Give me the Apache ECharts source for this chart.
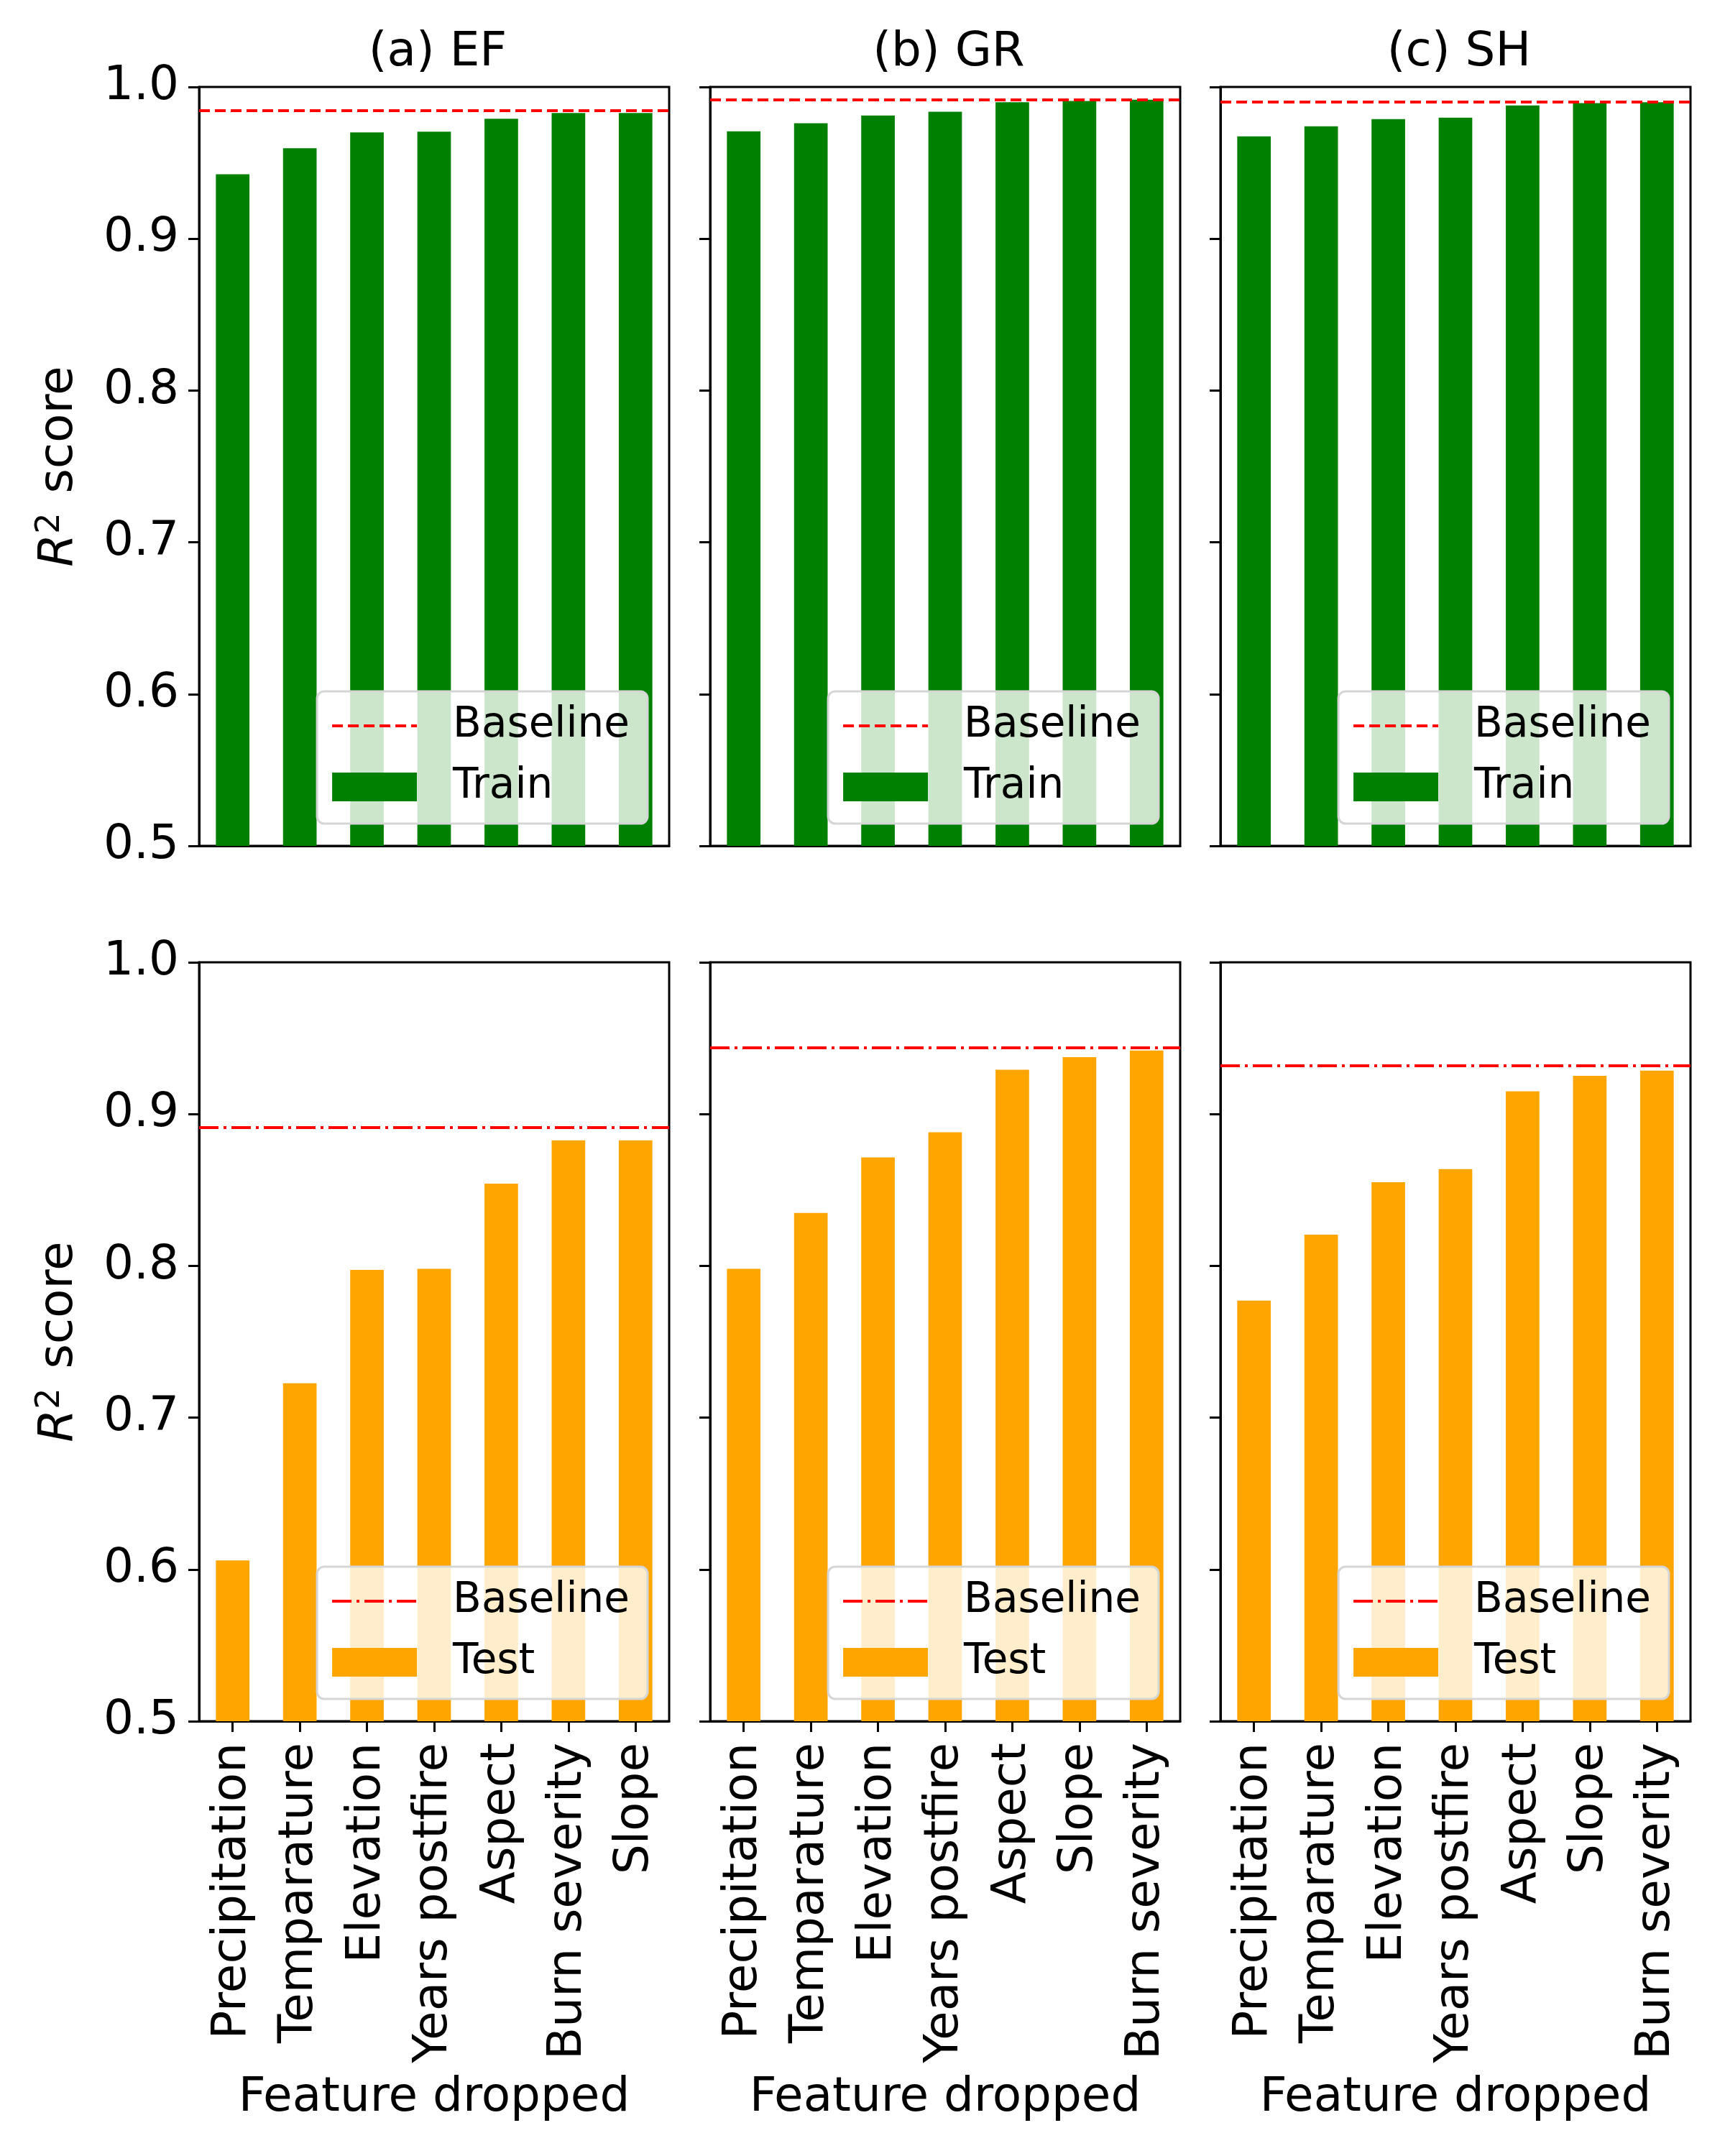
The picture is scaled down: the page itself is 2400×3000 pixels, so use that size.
<!DOCTYPE html>
<html>
<head>
<meta charset="utf-8">
<script src="https://cdn.jsdelivr.net/npm/echarts@6/dist/echarts.min.js"></script>
<style>
  html, body { margin: 0; padding: 0; background: #fff; }
  #main { width: 2400px; height: 3000px; }
</style>
</head>
<body>
<div id="main"></div>
<script>
// categories (order differs between EF and GR/SH)
var catsEF = ['Precipitation', 'Temparature', 'Elevation', 'Years postfire', 'Aspect', 'Burn severity', 'Slope']
var catsGR = ['Precipitation', 'Temparature', 'Elevation', 'Years postfire', 'Aspect', 'Slope', 'Burn severity']
var catsSH = ['Precipitation', 'Temparature', 'Elevation', 'Years postfire', 'Aspect', 'Slope', 'Burn severity']

// R2 values
var trainEF = [0.9425, 0.9596, 0.9700, 0.9705, 0.9790, 0.9828, 0.9828]
var trainGR = [0.9708, 0.9761, 0.9812, 0.9837, 0.9899, 0.9908, 0.9916]
var trainSH = [0.9675, 0.9741, 0.9788, 0.9798, 0.9878, 0.9893, 0.9899]
var testEF = [0.606, 0.7226, 0.7973, 0.798, 0.8542, 0.8827, 0.8827]
var testGR = [0.798, 0.8349, 0.8714, 0.888, 0.9292, 0.9375, 0.9419]
var testSH = [0.7771, 0.8206, 0.8551, 0.8638, 0.915, 0.9252, 0.9286]
var baseTrain = [0.9845, 0.9918, 0.9904]
var baseTest = [0.891, 0.9439, 0.9319]

var titles = ['(a) EF', '(b) GR', '(c) SH']

var FONT = 'DejaVu Sans'
var FS = 66      // axis text, titles
var LFS = 58     // legend text
var lefts = [277, 988, 1698]
var PW = 654
var tops = [121, 1339]
var PH = 1056

var cats = [catsEF, catsGR, catsSH]
var train = [trainEF, trainGR, trainSH]
var test = [testEF, testGR, testSH]

var dashTop = [15, 7]
var dashBot = [27, 7, 4, 7]

var grid = [], xAxis = [], yAxis = [], series = [], legend = [], title = []

for (var r = 0; r < 2; r++) {
    for (var c = 0; c < 3; c++) {
        var i = r * 3 + c
        grid.push({
            left: lefts[c], top: tops[r], width: PW, height: PH,
            show: true, borderColor: '#000', borderWidth: 3, containLabel: false
        })
        xAxis.push({
            type: 'category', gridIndex: i, data: cats[c],
            axisLine: { show: true, lineStyle: { color: '#000', width: 3 } },
            axisTick: { show: r === 1, alignWithLabel: true, length: 15, lineStyle: { width: 3, color: '#000' } },
            axisLabel: { show: r === 1, rotate: 90, margin: 30, fontSize: FS, fontFamily: FONT, color: '#000', interval: 0 },
            name: r === 1 ? 'Feature dropped' : '',
            nameLocation: 'middle', nameGap: 492,
            nameTextStyle: { fontSize: FS, fontFamily: FONT, color: '#000' },
            splitLine: { show: false }
        })
        yAxis.push({
            type: 'value', gridIndex: i, min: 0.5, max: 1.0, interval: 0.1,
            axisLine: { show: true, lineStyle: { color: '#000', width: 3 } },
            axisTick: { show: true, length: 15, lineStyle: { width: 3, color: '#000' } },
            axisLabel: {
                show: c === 0, margin: 28, fontSize: FS, fontFamily: FONT, color: '#000',
                formatter: function (v) { return v.toFixed(1) }
            },
            splitLine: { show: false },
            name: c === 0 ? '{r|R}{s|2} score' : '',
            nameLocation: 'middle', nameGap: 158,
            nameTextStyle: {
                fontSize: FS, fontFamily: FONT, color: '#000',
                rich: {
                    r: { fontSize: FS, fontFamily: FONT, fontStyle: 'italic', color: '#000' },
                    s: { fontSize: 46, fontFamily: FONT, color: '#000', verticalAlign: 'top', padding: [0, 6, 26, 0] }
                }
            }
        })
        var barName = r === 0 ? 'Train' : 'Test'
        var baseName = r === 0 ? 'Baseline' : 'Baseline-test'
        var dash = r === 0 ? dashTop : dashBot
        series.push({
            name: barName, type: 'bar', xAxisIndex: i, yAxisIndex: i,
            data: r === 0 ? train[c] : test[c],
            barWidth: '50%',
            itemStyle: { color: r === 0 ? '#008000' : '#FFA500' }
        })
        series.push({
            name: baseName, type: 'line', xAxisIndex: i, yAxisIndex: i,
            data: [], symbol: 'none', showSymbol: false,
            itemStyle: { color: '#FF0000' },
            lineStyle: { color: '#FF0000', width: 4, type: dash },
            markLine: {
                silent: true, symbol: ['none', 'none'], precision: 5,
                label: { show: false },
                lineStyle: { color: '#FF0000', width: 4, type: dash },
                data: [{ yAxis: r === 0 ? baseTrain[c] : baseTest[c] }]
            }
        })
        legend.push({
            data: [
                { name: baseName, itemStyle: { opacity: 0 }, lineStyle: { color: '#FF0000', width: 4, type: dash } },
                { name: barName, icon: 'rect' }
            ],
            orient: 'vertical',
            right: 2400 - (lefts[c] + PW) + 30,
            bottom: 3000 - (tops[r] + PH) + 31,
            itemWidth: 118, itemHeight: 40, itemGap: 27,
            padding: [19, 25, 22, 19],
            backgroundColor: 'rgba(255,255,255,0.8)',
            borderColor: '#d6d6d6', borderWidth: 3, borderRadius: 10,
            selectedMode: false,
            textStyle: { fontSize: LFS, fontFamily: FONT, color: '#000', padding: [0, 0, 0, 45] },
            formatter: function (name) { return name.indexOf('Baseline') === 0 ? 'Baseline' : name }
        })
        if (r === 0) {
            title.push({
                text: titles[c], left: lefts[c] + PW / 2, top: 36, textAlign: 'center',
                textStyle: { fontSize: FS, fontFamily: FONT, fontWeight: 'normal', color: '#000' }
            })
        }
    }
}

var chart = echarts.init(document.getElementById('main'))
chart.setOption({
    animation: false,
    backgroundColor: '#fff',
    title: title,
    grid: grid,
    xAxis: xAxis,
    yAxis: yAxis,
    legend: legend,
    series: series
})
</script>
</body>
</html>
